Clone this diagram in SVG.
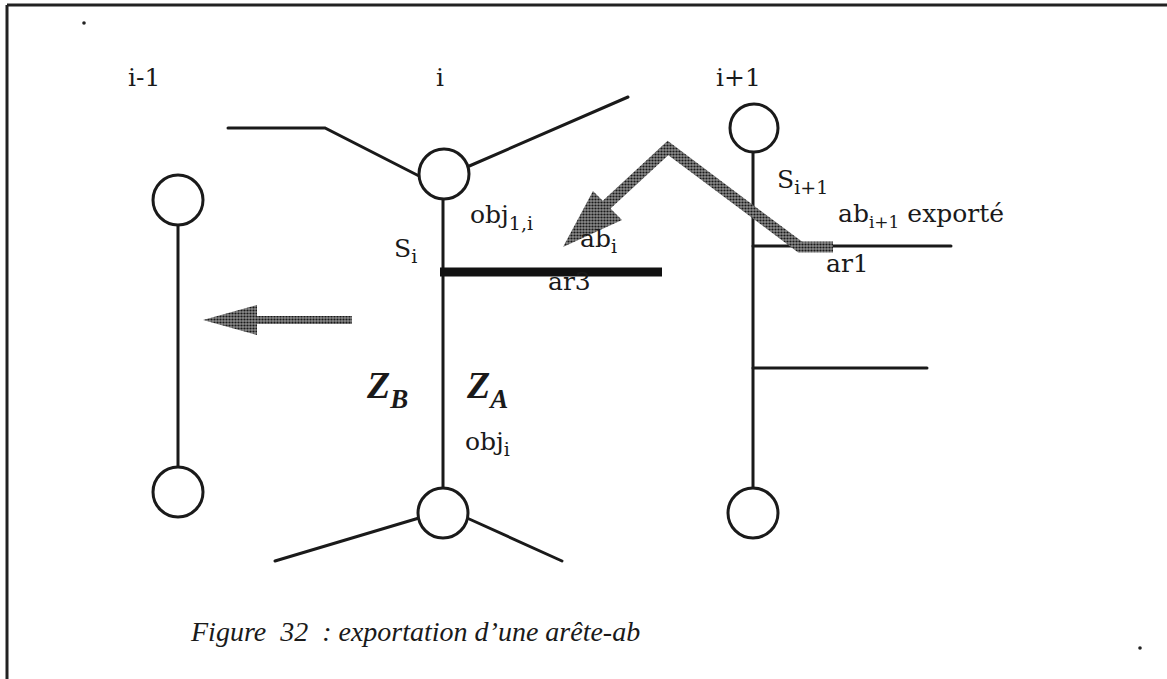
<svg xmlns="http://www.w3.org/2000/svg" width="1167" height="679" viewBox="0 0 1167 679">
<style>
.ln{stroke:#1a1a1a;stroke-width:3;fill:none;stroke-linecap:round}
.nd{stroke:#1a1a1a;stroke-width:3;fill:#fff}
.t{font-family:"DejaVu Serif","Liberation Serif",serif;fill:#1a1a1a;font-size:25px}
.s{font-size:19px}
.cap{font-family:"Liberation Serif","Times New Roman",serif;font-style:italic;font-size:28px;fill:#1a1a1a}
.z{font-family:"Liberation Serif","Times New Roman",serif;font-style:italic;font-weight:bold;font-size:38px;fill:#1a1a1a}
</style>
<defs>
<pattern id="dots" width="3" height="3" patternUnits="userSpaceOnUse">
<rect width="3" height="3" fill="#8a8a8a"/>
<circle cx="1.5" cy="1.5" r="1.1" fill="#1a1a1a"/>
</pattern>
</defs>
<rect width="1167" height="679" fill="#fff"/>
<g id="frame">
<path d="M7 5 H1167 M7 5 V679" stroke="#222" stroke-width="3" fill="none"/>
<circle cx="84" cy="23" r="1.8" fill="#222"/>
<circle cx="1140" cy="648" r="1.8" fill="#222"/>
</g>
<g id="connectors">
<line class="ln" x1="178" y1="225" x2="178" y2="467"/>
<line class="ln" x1="443" y1="199" x2="443" y2="488"/>
<line class="ln" x1="753" y1="152" x2="753" y2="488"/>
<polyline class="ln" points="228,128 325,128 421,177"/>
<line class="ln" x1="467" y1="167" x2="628" y2="97"/>
<line class="ln" x1="419" y1="518" x2="275" y2="561"/>
<line class="ln" x1="467" y1="518" x2="562" y2="561"/>
<line class="ln" x1="753" y1="246" x2="951" y2="246"/>
<line class="ln" x1="753" y1="368" x2="927" y2="368"/>
<line x1="440" y1="272" x2="662" y2="272" stroke="#111" stroke-width="9"/>
</g>
<g id="arrows">
<line x1="352" y1="320" x2="250" y2="320" stroke="url(#dots)" stroke-width="8"/>
<polygon points="203,320 257,305 257,335" fill="url(#dots)"/>
<polyline points="833,247 800,247 668,148 603,208" stroke="url(#dots)" stroke-width="11" fill="none" stroke-linejoin="miter"/>
<polygon points="563,247 593,191 622,220" fill="url(#dots)"/>
</g>
<g id="node-i-1">
<circle class="nd" cx="178" cy="200" r="25"/>
<circle class="nd" cx="178" cy="492" r="25"/>
<text class="t" x="128" y="86">i-1</text>
</g>
<g id="node-i">
<circle class="nd" cx="444" cy="174" r="25"/>
<circle class="nd" cx="443" cy="513" r="25"/>
<text class="t" x="436" y="86">i</text>
<text class="t" x="394" y="257">S<tspan class="s" dy="6">i</tspan></text>
<text class="t" x="470" y="223">obj<tspan class="s" dy="7">1,i</tspan></text>
<text class="z" x="367" y="398">Z<tspan font-size="27" dy="10">B</tspan></text>
<text class="z" x="467" y="398">Z<tspan font-size="27" dy="10">A</tspan></text>
<text class="t" x="465" y="450">obj<tspan class="s" dy="6">i</tspan></text>
<text class="t" x="580" y="247">ab<tspan class="s" dy="6">i</tspan></text>
<text class="t" x="548" y="290" font-size="21">ar3</text>
</g>
<g id="node-i+1">
<circle class="nd" cx="754" cy="128" r="24"/>
<circle class="nd" cx="753" cy="513" r="25"/>
<text class="t" x="716" y="86">i+1</text>
<text class="t" x="777" y="188">S<tspan class="s" dy="6">i+1</tspan></text>
<text class="t" x="838" y="222" font-size="21">ab<tspan font-size="17" dy="6">i+1</tspan><tspan dy="-6"> exporté</tspan></text>
<text class="t" x="826" y="272" font-size="21">ar1</text>
</g>
<text class="cap" x="191" y="641">Figure&#160; 32&#160; : exportation d’une arête-ab</text>
</svg>
